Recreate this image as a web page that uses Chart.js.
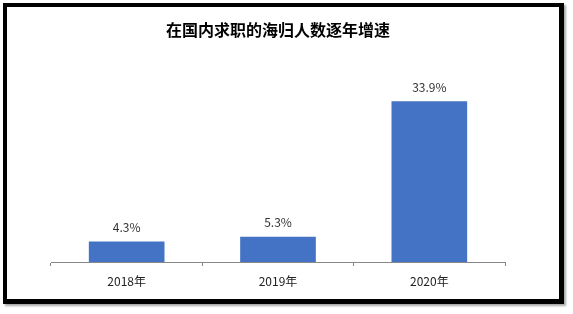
<!DOCTYPE html>
<html>
<head>
<meta charset="utf-8">
<script src="https://cdn.jsdelivr.net/npm/chart.js@4/dist/chart.umd.min.js"></script>
<style>
  html, body { margin: 0; padding: 0; background: #fff; }
  #wrap { position: relative; width: 573px; height: 314px; overflow: hidden; }
  #c { position: absolute; left: 0; top: 0; }
  #frame {
    position: absolute; left: 3px; top: 3px; width: 552px; height: 292px;
    border: 5px solid #000; border-left-width: 4px; border-top-width: 4px;
    box-shadow: 2px 2px 2px rgba(0,0,0,0.35);
    pointer-events: none;
  }
</style>
</head>
<body>
<div id="wrap">
  <canvas id="c" width="573" height="314"></canvas>
  <div id="frame"></div>
</div>
<script>
const title = '在国内求职的海归人数逐年增速';
const categories = ['2018年', '2019年', '2020年'];
const growthValues = [4.3, 5.3, 33.9];
const valueLabels = ['4.3%', '5.3%', '33.9%'];

const FONT = '"Noto Sans CJK SC", "Microsoft YaHei", sans-serif';

const labelPlugin = {
  id: 'valueLabels',
  afterDatasetsDraw(chart) {
    const ctx = chart.ctx;
    const meta = chart.getDatasetMeta(0);
    ctx.save();
    ctx.font = '12px ' + FONT;
    ctx.fillStyle = '#333333';
    ctx.textAlign = 'center';
    ctx.textBaseline = 'bottom';
    meta.data.forEach((el, i) => {
      ctx.fillText(valueLabels[i], el.x, el.y - 8);
    });
    ctx.restore();
  }
};

new Chart(document.getElementById('c'), {
  type: 'bar',
  data: {
    labels: categories,
    datasets: [{
      data: growthValues,
      backgroundColor: '#4472C4',
      borderWidth: 0,
      barPercentage: 0.5,
      categoryPercentage: 1.0
    }]
  },
  options: {
    responsive: false,
    animation: false,
    devicePixelRatio: 1,
    layout: { padding: { left: 51, right: 68, top: 0, bottom: 0 } },
    plugins: {
      legend: { display: false },
      tooltip: { enabled: false },
      title: {
        display: true,
        text: title,
        color: '#000',
        font: { family: FONT, size: 16, weight: 'bold' },
        padding: { top: 20, bottom: 33 }
      }
    },
    scales: {
      y: {
        display: false,
        min: 0,
        max: 40
      },
      x: {
        offset: true,
        grid: {
          display: true,
          drawOnChartArea: false,
          drawTicks: true,
          tickLength: 4,
          color: '#888888',
          offset: true
        },
        border: { display: true, color: '#888888', width: 1 },
        ticks: {
          color: '#222222',
          font: { family: FONT, size: 12 },
          padding: 8
        },
        afterFit(scale) { scale.height = 52; }
      }
    }
  },
  plugins: [labelPlugin]
});
</script>
</body>
</html>
